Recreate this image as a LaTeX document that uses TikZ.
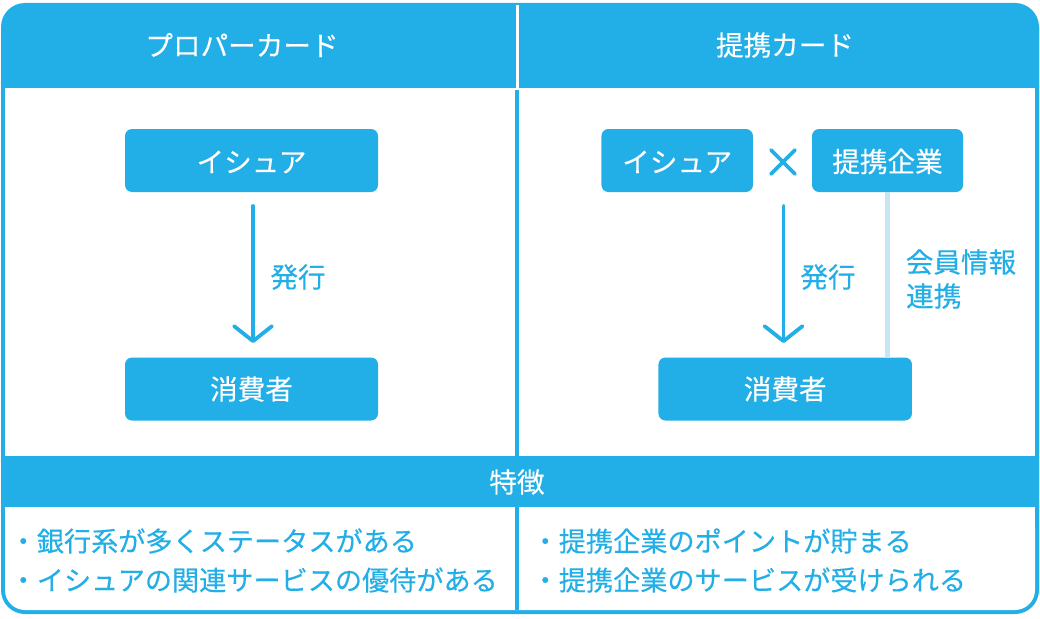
\documentclass[tikz,border=0pt]{standalone}
\usepackage{fontspec}
\setmainfont[FakeBold=0.25]{Noto Sans CJK JP}
\usetikzlibrary{arrows.meta}
\definecolor{cblue}{HTML}{22AEE6}
\definecolor{cpale}{HTML}{C6E6F3}
\newcommand{\lowtext}[2]{\raisebox{-#1}[\height][\depth]{#2}}
\tikzset{
  lbl/.style={font=\fontsize{27.6}{27.6}\selectfont,inner sep=0pt,text=cblue,anchor=center},
  wlbl/.style={lbl,text=white},
  item/.style={font=\fontsize{27.15}{27.15}\selectfont,inner sep=0pt,text=cblue,anchor=west},
  boxn/.style={fill=cblue,rounded corners=7pt,text=white,font=\fontsize{27.6}{27.6}\selectfont,inner sep=0pt,minimum height=63pt},
  issue/.style={draw=cblue,line width=3.8pt,line cap=round,-{Straight Barb[length=15pt,width=38pt,line width=3.8pt,round]},shorten >=15pt,shorten <=14pt},
  crossline/.style={draw=cblue,line width=3.8pt,line cap=round},
}
\begin{document}
\begin{tikzpicture}[x=1pt,y=-1pt]
\useasboundingbox (0,0) rectangle (1040,618);
\fill[white] (0,0) rectangle (1040,618);
% frame and panels
\fill[cblue,rounded corners=24pt] (1,3) rectangle (1039,614);
\fill[white] (5,88) rectangle (1035,456);
\fill[white,rounded corners=20pt] (5,507) rectangle (1035,610);
\fill[white] (5,507) rectangle (1035,530);
\fill[white] (515.8,5) rectangle (518.6,88);
\fill[white] (515,88) rectangle (520,90);
\fill[cblue] (515.3,90) rectangle (518.7,456);
\fill[cblue] (515.3,507) rectangle (518.7,610);
% titles
\node[wlbl] (h1) at (242,45) {プロパーカード};
\node[wlbl] (h2) at (785,45) {提携カード};
\node[wlbl] (f) at (517,482) {特徴};
% left diagram
\node[boxn,minimum width=253pt] (a1) at (251.5,160.5) {\lowtext{1.5pt}{イシュア}};
\node[boxn,minimum width=253pt] (b1) at (251.5,389) {消費者};
\coordinate (a1s) at (253,192);
\coordinate (b1n) at (253,358);
\draw[issue] (a1s) -- (b1n);
\node[lbl] (i1) at (298,277) {発行};
% right diagram
\node[boxn,minimum width=151.5pt] (a2) at (677.2,160.5) {\lowtext{1.5pt}{イシュア}};
\node[boxn,minimum width=151pt] (c2) at (887.5,160.5) {\lowtext{1pt}{提携企業}};
\node[boxn,minimum width=253.5pt] (b2) at (785.2,389) {消費者};
\coordinate (a2s) at (783.5,192);
\coordinate (b2n) at (783.5,358);
\draw[issue] (a2s) -- (b2n);
\node[lbl] (i2) at (828,277) {発行};
\coordinate (c2s) at (887,192);
\coordinate (b2l) at (887,358);
\draw[cpale,line width=5pt] (c2s) -- (b2l);
\node[lbl] (s1) at (961,262) {会員情報};
\node[lbl,anchor=west] (s2) at (906,296) {連携};
% cross
\coordinate (x1) at (771,150);
\coordinate (x2) at (795,174);
\coordinate (x3) at (795,150);
\coordinate (x4) at (771,174);
\draw[crossline] (x1) -- (x2);
\draw[crossline] (x3) -- (x4);
% feature lists
\node[item] (l1) at (9.5,541) {・銀行系が多くステータスがある};
\node[item] (l2) at (9.5,580) {・イシュアの関連サービスの優待がある};
\node[item] (r1) at (531.5,541) {・提携企業のポイントが貯まる};
\node[item] (r2) at (531.5,580) {・提携企業のサービスが受けられる};
\end{tikzpicture}
\end{document}
